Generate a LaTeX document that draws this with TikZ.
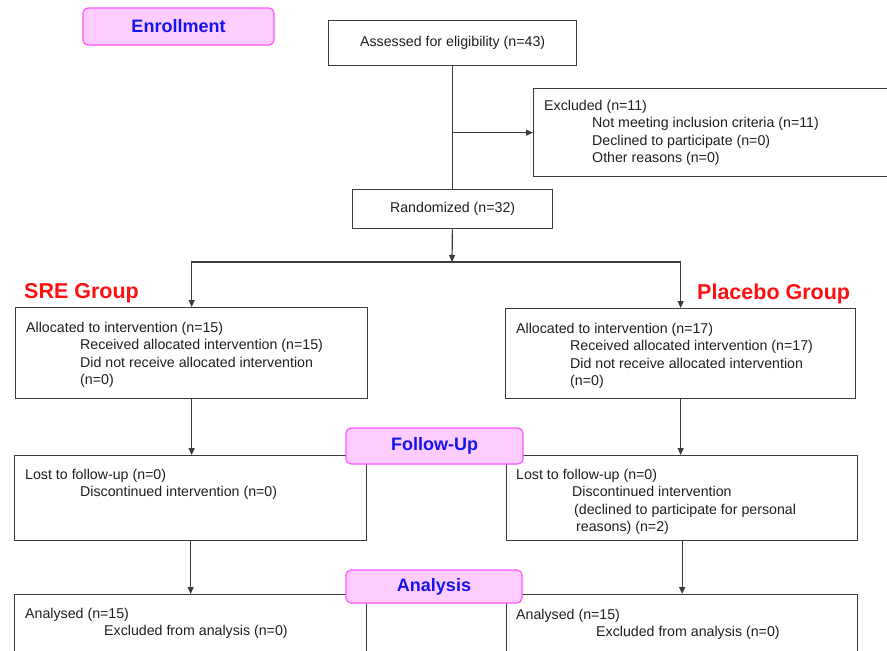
\documentclass[tikz,border=0pt]{standalone}
\usepackage{fontspec}
\setmainfont{Liberation Sans}
\usetikzlibrary{arrows.meta,positioning,calc}
\definecolor{boxgray}{HTML}{3C3C3C}
\definecolor{txtgray}{HTML}{202020}
\definecolor{phasefill}{HTML}{FFCCFF}
\definecolor{phaseedge}{HTML}{FF55FF}
\definecolor{phaseblue}{HTML}{1414F0}
\definecolor{groupred}{HTML}{FF1010}
\newcommand\bodysize{\fontsize{14.2}{17.6}\selectfont}
\tikzset{
  box/.style={rectangle,draw=boxgray,line width=1.3pt,fill=white,anchor=north west,
              inner sep=0pt,align=center,font=\bodysize,text=txtgray},
  txt/.style={anchor=north west,inner sep=0pt,align=left,font=\bodysize,text=txtgray},
  phase/.style={rectangle,rounded corners=5pt,draw=phaseedge,line width=1.2pt,fill=phasefill,
                inner sep=0pt,font=\fontsize{18}{20}\selectfont\bfseries,text=phaseblue},
  group/.style={anchor=west,inner sep=0pt,font=\fontsize{21.5}{24}\selectfont\bfseries,text=groupred},
  flow/.style={-{Triangle[length=7pt,width=6pt]},line width=1.2pt,draw=boxgray},
  link/.style={line width=1.2pt,draw=boxgray},
}
\begin{document}
\begin{tikzpicture}[x=1pt,y=-1pt]
\useasboundingbox (0,0) rectangle (887,651);
\fill[white] (0,0) rectangle (887,651);
% enrollment
\node[box,minimum width=248pt,minimum height=45pt] (assessed) at (328,20) {Assessed for eligibility (n=43)};
\node[box,minimum width=355pt,minimum height=88pt] (excl) at (533,88) {};
\node[txt] (exclTxt) at ([shift={(11pt,-11.7pt)}]excl.north west)
  {Excluded (n=11)\\\hspace*{48pt}Not meeting inclusion criteria (n=11)\\
   \hspace*{48pt}Declined to participate (n=0)\\\hspace*{48pt}Other reasons (n=0)};
\node[box,minimum width=200pt,minimum height=39pt] (random) at (352,189) {Randomized (n=32)};
\coordinate (exclJoin) at (assessed.south |- excl.west);
\coordinate (split) at (452,262);
% allocation
\node[group] (sreGrp) at (24,293) {SRE Group};
\node[group] (pboGrp) at (697,294) {Placebo Group};
\node[box,minimum width=352pt,minimum height=91pt] (sreAlloc) at (15,307) {};
\node[txt] (sreAllocTxt) at ([shift={(11pt,-14.7pt)}]sreAlloc.north west)
  {Allocated to intervention (n=15)\\\hspace*{54pt}Received allocated intervention (n=15)\\
   \hspace*{54pt}Did not receive allocated intervention\\\hspace*{54pt}(n=0)};
\node[box,minimum width=350pt,minimum height=90pt] (pboAlloc) at (505,308) {};
\node[txt] (pboAllocTxt) at ([shift={(11pt,-14.7pt)}]pboAlloc.north west)
  {Allocated to intervention (n=17)\\\hspace*{54pt}Received allocated intervention (n=17)\\
   \hspace*{54pt}Did not receive allocated intervention\\\hspace*{54pt}(n=0)};
% follow-up
\node[box,minimum width=352pt,minimum height=85pt] (sreLost) at (14,455) {};
\node[txt] (sreLostTxt) at ([shift={(11pt,-13.7pt)}]sreLost.north west)
  {Lost to follow-up (n=0)\\\hspace*{55pt}Discontinued intervention (n=0)};
\node[box,minimum width=351pt,minimum height=85pt] (pboLost) at (506,455) {};
\node[txt] (pboLostTxt) at ([shift={(10pt,-13.7pt)}]pboLost.north west)
  {Lost to follow-up (n=0)\\\hspace*{56pt}Discontinued intervention\\
   \hspace*{58pt}(declined to participate for personal\\\hspace*{60pt}reasons) (n=2)};
% analysis
\node[box,minimum width=352pt,minimum height=110pt] (sreAna) at (14,594) {};
\node[txt] (sreAnaTxt) at ([shift={(11pt,-13.7pt)}]sreAna.north west)
  {Analysed (n=15)\\\hspace*{79pt}Excluded from analysis (n=0)};
\node[box,minimum width=351pt,minimum height=110pt] (pboAna) at (506,594) {};
\node[txt] (pboAnaTxt) at ([shift={(10pt,-14.7pt)}]pboAna.north west)
  {Analysed (n=15)\\\hspace*{80pt}Excluded from analysis (n=0)};
% connectors
\draw[link] (assessed) -- (random);
\draw[flow] (exclJoin) -- (excl.west);
\draw[flow] (random) -- (split);
\draw[flow] (split) -| (sreAlloc.north);
\draw[flow] (split) -| (pboAlloc.north);
\draw[flow] (sreAlloc.south) -- (sreAlloc.south |- sreLost.north);
\draw[flow] (pboAlloc.south) -- (pboAlloc.south |- pboLost.north);
\draw[flow] (sreLost.south) -- (sreLost.south |- sreAna.north);
\draw[flow] (pboLost.south) -- (pboLost.south |- pboAna.north);
% phase tags on top
\node[phase,minimum width=191pt,minimum height=37pt] (enroll) at (178.5,26.5) {Enrollment};
\node[phase,minimum width=177pt,minimum height=36pt] (follow) at (434.5,446) {Follow-Up};
\node[phase,minimum width=176pt,minimum height=33pt] (analysis) at (434,586.5) {Analysis};
\end{tikzpicture}
\end{document}
